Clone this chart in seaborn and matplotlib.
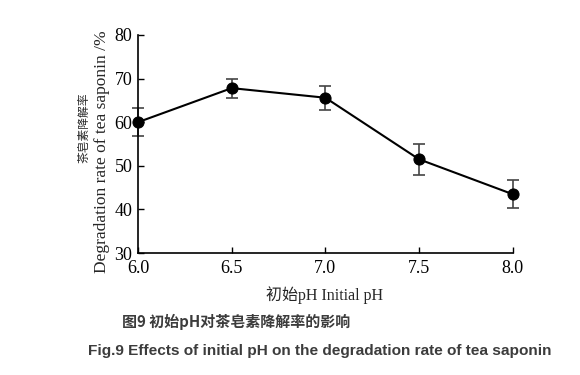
import numpy as np
import pandas as pd
import seaborn as sns
from matplotlib import pyplot as plt

# values
ph = [6.0, 6.5, 7.0, 7.5, 8.0]
degradation = [60.0, 67.8, 65.6, 51.5, 43.5]
err = [3.2, 2.2, 2.7, 3.5, 3.2]
x_ticks = [6.0, 6.5, 7.0, 7.5, 8.0]
y_ticks = [30, 40, 50, 60, 70, 80]

df = pd.DataFrame({'pH': ph, 'rate': degradation, 'err': err})

sns.set_style('ticks')
plt.rcParams['font.family'] = ['Liberation Serif', 'Noto Sans CJK SC']

fig = plt.figure(figsize=(5.8, 3.75), dpi=100)
ax = fig.add_axes([0.238, 0.325, 0.646, 0.582])

ax.errorbar(df['pH'], df['rate'], yerr=df['err'], fmt='none',
            ecolor='#444444', elinewidth=1.2, capsize=4, capthick=1.2,
            clip_on=False, zorder=2)
sns.lineplot(x='pH', y='rate', data=df, ax=ax, color='black', linewidth=1.5,
             marker='o', markersize=8, markeredgecolor='black',
             clip_on=False, zorder=3)

ax.set_xlim(6.0, 8.0)
ax.set_ylim(30, 80)
ax.set_xticks(x_ticks)
ax.set_xticklabels(['%.1f' % v for v in x_ticks])
ax.set_yticks(y_ticks)
ax.tick_params(direction='in', length=4, width=1, labelsize=13, colors='black')
ax.tick_params(axis='y', pad=4)
ax.tick_params(axis='x', pad=5)
for s in ['top', 'right']:
    ax.spines[s].set_visible(False)
for s in ['left', 'bottom']:
    ax.spines[s].set_linewidth(1.2)
    ax.spines[s].set_color('black')
ax.set_xlabel('')
ax.set_ylabel('')

# axis labels
fig.text(0.56, 0.213, '初始pH Initial pH', ha='center', va='center', fontsize=11.5,
         family=['Liberation Serif', 'Noto Sans CJK SC'])
fig.text(0.145, 0.659, '茶皂素降解率', rotation=90, ha='center', va='center',
         fontsize=8.5, family=['Noto Sans CJK SC'])
fig.text(0.176, 0.595, 'Degradation rate of tea saponin /%', rotation=90,
         ha='center', va='center', fontsize=12.5,
         family=['Liberation Serif', 'Noto Sans CJK SC'])

# captions
fig.text(0.21, 0.142, '图9 初始pH对茶皂素降解率的影响', ha='left', va='center',
         fontsize=10.8, fontweight='bold', color='#3c3c3c',
         family=['Noto Sans CJK SC'])
fig.text(0.152, 0.064, 'Fig.9 Effects of initial pH on the degradation rate of tea saponin',
         ha='left', va='center', fontsize=11.1, fontweight='bold', color='#3c3c3c',
         family=['Liberation Sans'])

fig.savefig('out.png', dpi=100)
plt.close()
